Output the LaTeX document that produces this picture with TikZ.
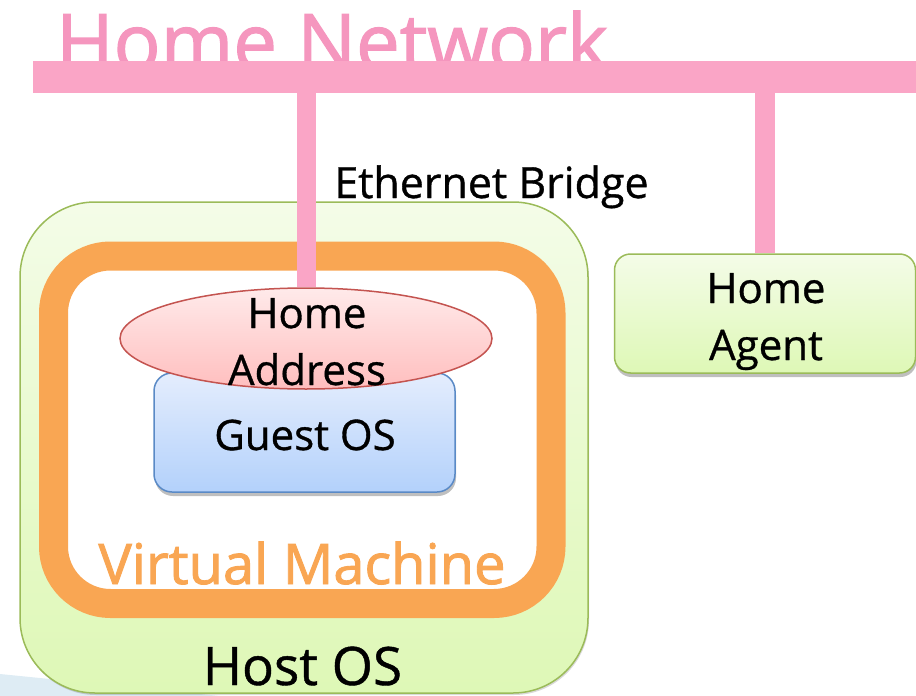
\documentclass[tikz,border=0pt]{standalone}
\usepackage{fontspec}
\setmainfont{Open Sans}
\newfontface\heavyface{Open Sans}[FakeBold=1.6]
\newfontface\midface{Open Sans}[FakeBold=0.8]
\usetikzlibrary{shapes.geometric,shadows}
\definecolor{netpink}{RGB}{250,165,198}
\definecolor{netpinktext}{RGB}{245,150,190}
\definecolor{vmorange}{RGB}{249,166,83}
\definecolor{greenborder}{RGB}{155,187,89}
\definecolor{greentop}{RGB}{244,252,232}
\definecolor{greenbot}{RGB}{222,248,182}
\definecolor{bluetop}{RGB}{228,237,253}
\definecolor{bluebot}{RGB}{179,209,251}
\definecolor{blueborder}{RGB}{90,138,198}
\definecolor{redtop}{RGB}{255,234,234}
\definecolor{redbot}{RGB}{255,190,190}
\definecolor{redborder}{RGB}{196,84,80}
\definecolor{wedgeblue}{RGB}{222,236,244}
\tikzset{
  greenbox/.style={draw=greenborder, line width=1.5pt, top color=greentop, bottom color=greenbot, inner sep=0pt},
  guestbox/.style={draw=blueborder, line width=1.5pt, top color=bluetop, bottom color=bluebot, inner sep=0pt, rounded corners=18pt,
    drop shadow={shadow xshift=1pt, shadow yshift=-4pt, opacity=0.25, fill=black}},
  agentbox/.style={greenbox, rounded corners=16pt,
    drop shadow={shadow xshift=1pt, shadow yshift=-4pt, opacity=0.25, fill=black}},
  addrstyle/.style={ellipse, draw=redborder, line width=1.5pt, top color=redtop, bottom color=redbot, inner sep=0pt},
  netline/.style={draw=netpink, line width=20pt},
  lbl/.style={anchor=base, inner sep=0pt, text=black},
}
\begin{document}
\begin{tikzpicture}[x=1pt,y=-1pt]
\useasboundingbox (0,0) rectangle (916,696);
% background swoosh
\fill[wedgeblue] (0,674) -- (240,698) -- (0,698) -- cycle;
% title (partly hidden by the bar)
\node[anchor=base, inner sep=0pt, text=netpinktext, font=\heavyface\fontsize{78}{84}\selectfont] (title) at (332,70) {Home Network};
\node[fill=netpink, minimum width=884pt, minimum height=32pt, inner sep=0pt] (net) at (475,77) {};
% host OS
\node[greenbox, rounded corners=75pt, minimum width=568pt, minimum height=491pt,
  drop shadow={shadow xshift=1pt, shadow yshift=-2pt, opacity=0.15, fill=black}] (host) at (304,447.5) {};
% virtual machine
\node[draw=vmorange, line width=29pt, fill=white, rounded corners=57pt, minimum width=497.5pt, minimum height=347.5pt, inner sep=0pt] (vm) at (302.25,429.75) {};
% guest OS
\node[guestbox, minimum width=301pt, minimum height=119pt] (guest) at (304.5,432.5) {};
% home address
\node[addrstyle, minimum width=372pt, minimum height=101pt] (addr) at (306,338.5) {};
% home agent
\node[agentbox, minimum width=301pt, minimum height=119pt] (agent) at (765,313.5) {};
% connectors
\draw[netline, line width=19pt] (net.south -| addr.north) -- (addr.north);
\draw[netline] (net.south -| agent.north) -- (agent.north);
% labels
\node[lbl, font=\midface\fontsize{43}{50}\selectfont] (eb) at (491.5,198) {Ethernet Bridge};
\node[lbl, font=\midface\fontsize{53}{60}\selectfont] (hostlbl) at (302.5,685) {Host OS};
\node[lbl, text=vmorange, font=\heavyface\fontsize{56}{62}\selectfont] (vmlbl) at (302,584) {Virtual Machine};
\node[lbl, font=\midface\fontsize{42}{48}\selectfont] (guestlbl) at (305,450) {Guest OS};
\node[lbl, font=\midface\fontsize{42}{48}\selectfont] (addrlbl1) at (307,328) {Home};
\node[lbl, font=\midface\fontsize{42}{48}\selectfont] (addrlbl2) at (307,385) {Address};
\node[lbl, font=\midface\fontsize{42}{48}\selectfont] (agentlbl1) at (766,303) {Home};
\node[lbl, font=\midface\fontsize{42}{48}\selectfont] (agentlbl2) at (766,360) {Agent};
\end{tikzpicture}
\end{document}
